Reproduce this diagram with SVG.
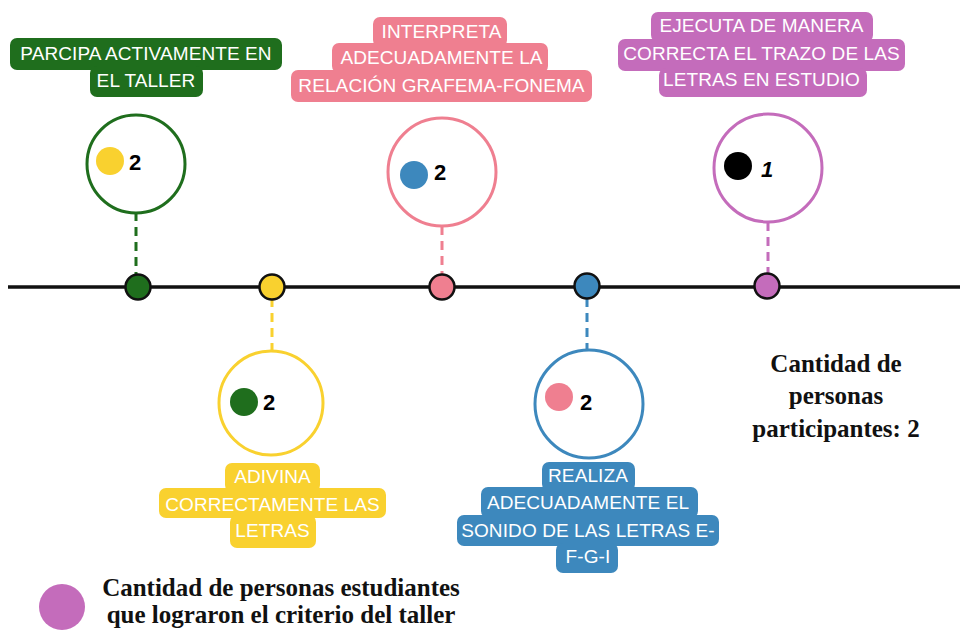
<svg xmlns="http://www.w3.org/2000/svg" width="960" height="631" viewBox="0 0 960 631">
<style>
.lbl{font-family:"Liberation Sans",Arial,sans-serif;font-size:19px;fill:#ffffff;text-anchor:middle;letter-spacing:0.1px}
.num{font-family:"Liberation Sans",Arial,sans-serif;font-size:22px;font-weight:bold;fill:#000}
.ser{font-family:"Liberation Serif","Times New Roman",serif;font-size:25px;font-weight:bold;fill:#111;text-anchor:middle}
.ring{fill:#fff;stroke-width:3}
.pt{stroke:#111;stroke-width:2.5}
.dash{stroke-width:3;stroke-dasharray:9 6;fill:none}
</style>
<rect width="960" height="631" fill="#fff"/>
<g id="connectors">
<line x1="136" y1="212" x2="136" y2="276" class="dash" stroke="#1f6e1d"/>
<line x1="272" y1="298" x2="272" y2="351" class="dash" stroke="#f9d12f"/>
<line x1="442" y1="226" x2="442" y2="276" class="dash" stroke="#ef7f90"/>
<line x1="587" y1="298" x2="587" y2="350" class="dash" stroke="#3d88bd"/>
<line x1="768" y1="222" x2="768" y2="276" class="dash" stroke="#c46cbb"/>
</g>
<g id="timeline">
<line x1="8" y1="287" x2="960" y2="287" stroke="#111" stroke-width="3.5"/>
<circle cx="138" cy="287" r="12.5" fill="#1f6e1d" class="pt"/>
<circle cx="272" cy="287" r="12.5" fill="#f9d12f" class="pt"/>
<circle cx="442" cy="287" r="12.5" fill="#ef7f90" class="pt"/>
<circle cx="587" cy="286" r="12.5" fill="#3d88bd" class="pt"/>
<circle cx="767" cy="286" r="12.5" fill="#c46cbb" class="pt"/>
</g>
<g id="node-participa">
<circle cx="136" cy="164" r="49" class="ring" stroke="#1f6e1d"/>
<circle cx="110" cy="161" r="14" fill="#f9d12f"/>
<text x="129" y="170" class="num">2</text>
<g fill="#1f6e1d">
<rect x="10" y="38" width="272" height="32" rx="7"/>
<rect x="90" y="66" width="113" height="31" rx="7"/>
</g>
<text x="146" y="60" class="lbl">PARCIPA ACTIVAMENTE EN</text>
<text x="146" y="87" class="lbl">EL TALLER</text>
</g>
<g id="node-adivina">
<circle cx="271" cy="403" r="52" class="ring" stroke="#f9d12f"/>
<circle cx="244" cy="402" r="14" fill="#1f6e1d"/>
<text x="263" y="410" class="num">2</text>
<g fill="#f9d12f">
<rect x="225" y="463" width="95" height="29" rx="7"/>
<rect x="159" y="488" width="227" height="30" rx="7"/>
<rect x="230" y="515" width="86" height="33" rx="7"/>
</g>
<text x="272.5" y="483" class="lbl">ADIVINA</text>
<text x="272.5" y="511" class="lbl">CORRECTAMENTE LAS</text>
<text x="272.5" y="537" class="lbl">LETRAS</text>
</g>
<g id="node-interpreta">
<circle cx="442" cy="172" r="54" class="ring" stroke="#ef7f90"/>
<circle cx="414" cy="175" r="14" fill="#3d88bd"/>
<text x="434" y="180" class="num">2</text>
<g fill="#ef7f90">
<rect x="373" y="17" width="134" height="30" rx="7"/>
<rect x="332" y="43" width="216" height="30" rx="7"/>
<rect x="291" y="70" width="301" height="32" rx="7"/>
</g>
<text x="441.5" y="38" class="lbl">INTERPRETA</text>
<text x="441.5" y="64" class="lbl">ADECUADAMENTE LA</text>
<text x="441.5" y="92" class="lbl">RELACIÓN GRAFEMA-FONEMA</text>
</g>
<g id="node-realiza">
<circle cx="589" cy="404" r="54" class="ring" stroke="#3d88bd"/>
<circle cx="559" cy="397" r="14" fill="#ef7f90"/>
<text x="580" y="410" class="num">2</text>
<g fill="#3d88bd">
<rect x="542" y="462" width="93" height="29" rx="7"/>
<rect x="481" y="487" width="217" height="31" rx="7"/>
<rect x="457" y="515" width="262" height="31" rx="7"/>
<rect x="556" y="543" width="62" height="30" rx="7"/>
</g>
<text x="588" y="482" class="lbl">REALIZA</text>
<text x="588" y="509" class="lbl">ADECUADAMENTE EL</text>
<text x="588" y="537" class="lbl">SONIDO DE LAS LETRAS E-</text>
<text x="588" y="563" class="lbl">F-G-I</text>
</g>
<g id="node-ejecuta">
<circle cx="768" cy="168" r="54" class="ring" stroke="#c46cbb"/>
<circle cx="738" cy="166" r="14" fill="#000"/>
<text x="761" y="177" class="num" font-style="italic">1</text>
<g fill="#c46cbb">
<rect x="651" y="12" width="222" height="30" rx="7"/>
<rect x="618" y="39" width="287" height="32" rx="7"/>
<rect x="659" y="68" width="208" height="29" rx="7"/>
</g>
<text x="761.5" y="32" class="lbl">EJECUTA DE MANERA</text>
<text x="761.5" y="60" class="lbl">CORRECTA EL TRAZO DE LAS</text>
<text x="761.5" y="86" class="lbl">LETRAS EN ESTUDIO</text>
</g>
<g id="participantes">
<text x="836" y="372" class="ser">Cantidad de</text>
<text x="836" y="404" class="ser">personas</text>
<text x="836" y="437" class="ser">participantes: 2</text>
</g>
<g id="legend">
<circle cx="62" cy="607" r="23" fill="#c46cbb"/>
<text x="281" y="596" class="ser">Cantidad de personas estudiantes</text>
<text x="281" y="623" class="ser">que lograron el criterio del taller</text>
</g>
</svg>
